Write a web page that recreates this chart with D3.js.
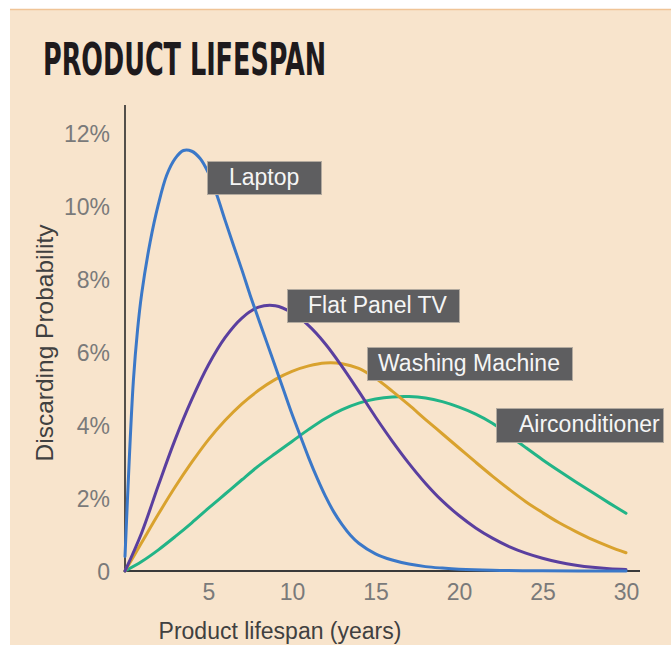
<!DOCTYPE html>
<html>
<head>
<meta charset="utf-8">
<script src="https://cdn.jsdelivr.net/npm/d3@7"></script>
<style>
  html, body { margin: 0; padding: 0; background: #ffffff; }
  svg { display: block; }
</style>
</head>
<body>
<script>
// ---------------- DATA ----------------
const seriesNames = ["Laptop", "Flat Panel TV", "Washing Machine", "Airconditioner"];

const laptopYears = [0, 0.25, 0.5, 0.75, 1, 1.5, 2, 2.5, 3, 3.5, 4, 4.5, 5, 5.5, 6, 6.5, 7, 7.5, 8, 8.5,
  9, 9.5, 10, 10.5, 11, 11.5, 12, 12.5, 13, 13.5, 14, 15, 16, 17, 18, 19, 20, 22, 25, 30];
const laptopValues = [0.4, 3.0, 5.2, 6.6, 7.6, 9.0, 10.05, 10.85, 11.3, 11.52, 11.5, 11.3, 10.9, 10.3, 9.6, 8.92,
  8.25, 7.55, 6.9, 6.25, 5.6, 4.95, 4.3, 3.7, 3.1, 2.55, 2.05, 1.62, 1.27, 0.98, 0.76, 0.47, 0.3, 0.19, 0.12,
  0.08, 0.05, 0.02, 0.005, 0];

const years = d3.range(0, 31); // 0..30
const flatPanelValues = [0, 1.05, 2.35, 3.6, 4.7, 5.65, 6.4, 6.93, 7.23, 7.27, 7.08, 6.72, 6.22, 5.6, 4.92, 4.22,
  3.56, 2.95, 2.4, 1.92, 1.52, 1.18, 0.9, 0.67, 0.49, 0.35, 0.24, 0.16, 0.1, 0.06, 0.04];
const washingValues = [0, 0.78, 1.56, 2.3, 2.98, 3.6, 4.13, 4.58, 4.95, 5.25, 5.47, 5.62, 5.7, 5.68, 5.55, 5.28,
  4.93, 4.55, 4.15, 3.76, 3.37, 2.98, 2.6, 2.24, 1.9, 1.6, 1.32, 1.08, 0.86, 0.67, 0.5];
const airconValues = [0, 0.26, 0.58, 0.94, 1.32, 1.72, 2.11, 2.5, 2.88, 3.22, 3.55, 3.88, 4.18, 4.42, 4.6, 4.71,
  4.77, 4.78, 4.74, 4.64, 4.49, 4.3, 4.05, 3.72, 3.38, 3.05, 2.74, 2.44, 2.15, 1.86, 1.58];

const xTicks = [5, 10, 15, 20, 25, 30];
const yTicks = [0, 2, 4, 6, 8, 10, 12];
const yTickLabels = ["0", "2%", "4%", "6%", "8%", "10%", "12%"];

// ---------------- STYLE / LAYOUT ----------------
const W = 671, H = 645;
const colors = ["#3b78c8", "#5a3f9f", "#d9a22e", "#22b487"];
// label boxes in pixel layout (box x, y, w, h, text x)
const labelBoxes = [
  {x: 207, y: 161, w: 114, h: 33, tx: 229},
  {x: 287, y: 289, w: 172, h: 33, tx: 308},
  {x: 367, y: 347, w: 205, h: 33, tx: 378},
  {x: 496, y: 408, w: 167, h: 34, tx: 519}
];

const svg = d3.select("body").append("svg")
  .attr("width", W).attr("height", H);

// background
svg.append("rect").attr("x", 0).attr("y", 0).attr("width", W).attr("height", H).attr("fill", "#ffffff");
svg.append("rect").attr("x", 10).attr("y", 9).attr("width", W - 10).attr("height", H - 9).attr("fill", "#f8e4cc");
svg.append("line").attr("x1", 10).attr("x2", W).attr("y1", 9.5).attr("y2", 9.5)
  .attr("stroke", "#f0c496").attr("stroke-width", 1.5);

// title
svg.append("text")
  .attr("x", 43).attr("y", 75)
  .attr("textLength", 283).attr("lengthAdjust", "spacingAndGlyphs")
  .style("font-family", "'Liberation Sans Narrow', 'DejaVu Sans Condensed', sans-serif")
  .style("font-weight", "bold")
  .style("font-size", "45px")
  .attr("fill", "#1e1a1c")
  .text("PRODUCT LIFESPAN");

// scales
const x = d3.scaleLinear().domain([0, 30]).range([125, 626]);
const y = d3.scaleLinear().domain([0, 12]).range([571, 133]);

const font = "'Liberation Sans', Arial, sans-serif";

// axes (labels via D3 axes; lines drawn separately)
const xAxis = d3.axisBottom(x).tickValues(xTicks).tickSize(0).tickFormat(d => d);
const gx = svg.append("g").attr("transform", `translate(0,${y(0)})`).call(xAxis);
gx.select(".domain").remove();
gx.selectAll("text")
  .attr("y", 0).attr("dy", null)
  .attr("transform", "translate(0,29)")
  .style("font-family", font).style("font-size", "23px").attr("fill", "#7a7a7a");

const yAxis = d3.axisLeft(y).tickValues(yTicks).tickSize(0)
  .tickFormat((d, i) => yTickLabels[i]);
const gy = svg.append("g").attr("transform", `translate(110,0)`).call(yAxis);
gy.select(".domain").remove();
gy.selectAll("text")
  .attr("x", 0).attr("dy", "0.36em")
  .style("font-family", font).style("font-size", "23px").attr("fill", "#7a7a7a");

// axis lines
svg.append("line").attr("x1", 125).attr("x2", 125).attr("y1", 105).attr("y2", y(0) + 1)
  .attr("stroke", "#2a2a2a").attr("stroke-width", 1.6);
svg.append("line").attr("x1", 125).attr("x2", 640).attr("y1", y(0)).attr("y2", y(0))
  .attr("stroke", "#3a3a3a").attr("stroke-width", 2);

// axis titles
svg.append("text")
  .attr("transform", `translate(53,${343}) rotate(-90)`)
  .attr("text-anchor", "middle")
  .style("font-family", font).style("font-size", "24.5px")
  .attr("fill", "#404040")
  .text("Discarding Probability");
svg.append("text")
  .attr("x", 280).attr("y", 639)
  .attr("text-anchor", "middle")
  .style("font-family", font).style("font-size", "23px")
  .attr("fill", "#404040")
  .text("Product lifespan (years)");

// series
const seriesData = [
  laptopYears.map((t, i) => [t, laptopValues[i]]),
  years.map((t, i) => [t, flatPanelValues[i]]),
  years.map((t, i) => [t, washingValues[i]]),
  years.map((t, i) => [t, airconValues[i]])
];

const line = d3.line().x(d => x(d[0])).y(d => y(d[1])).curve(d3.curveCatmullRom.alpha(0.5));

// draw from back to front: aircon, washing, flat, laptop
const order = [3, 2, 1, 0];
order.forEach(i => {
  svg.append("path")
    .datum(seriesData[i])
    .attr("d", line)
    .attr("fill", "none")
    .attr("stroke", colors[i])
    .attr("stroke-width", 3)
    .attr("stroke-linecap", "round");
});

// labels
seriesNames.forEach((name, i) => {
  const b = labelBoxes[i];
  svg.append("rect")
    .attr("x", b.x + 0.5).attr("y", b.y + 0.5).attr("width", b.w).attr("height", b.h)
    .attr("fill", "#5e5e60").attr("stroke", "#b3aa9f").attr("stroke-width", 1);
  svg.append("text")
    .attr("x", b.tx).attr("y", b.y + 24)
    .style("font-family", font).style("font-size", "23px")
    .attr("fill", "#f5f5f5")
    .text(name);
});
</script>
</body>
</html>
